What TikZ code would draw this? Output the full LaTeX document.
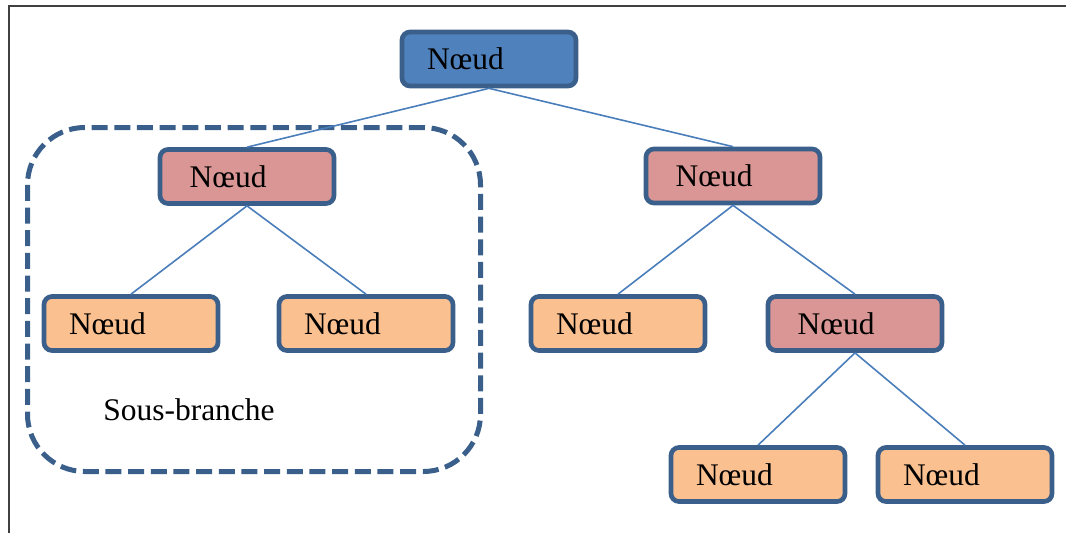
\documentclass[tikz,border=0pt]{standalone}
\usepackage{fontspec}
\setmainfont{Liberation Serif}
\definecolor{frameline}{HTML}{404040}
\definecolor{boxline}{HTML}{3A5F8B}
\definecolor{rootfill}{HTML}{4F81BD}
\definecolor{innerfill}{HTML}{D99694}
\definecolor{leaffill}{HTML}{FAC090}
\definecolor{edgeline}{HTML}{4A7EBB}
\tikzset{
  treebox/.style={draw=boxline, line width=3.5pt, rounded corners=6pt,
    minimum width=130.5pt, minimum height=40.5pt, inner xsep=18.75pt,
    text width=93pt, align=left, font=\fontsize{23.6}{28}\selectfont},
  rootbox/.style={treebox, fill=rootfill},
  innerbox/.style={treebox, fill=innerfill, execute at begin node={\hspace*{3.5pt}}},
  leafbox/.style={treebox, fill=leaffill},
  link/.style={draw=edgeline, line width=1.2pt},
  groupframe/.style={draw=boxline, line width=3.75pt, dash pattern=on 12pt off 5pt, rounded corners=43pt},
}
\begin{document}
\begin{tikzpicture}[x=0.75pt, y=-0.75pt]
  \useasboundingbox (0,0) rectangle (1066,533);
  % outer frame (top and left sides)
  \draw[frameline, line width=1.5pt] (9,533) -- (9,6) -- (1066,6);

  % dashed group around the left sub-branch
  \draw[groupframe] (27.5,127.5) rectangle (480.5,471.5);
  \node[anchor=base, font=\fontsize{23.6}{28}\selectfont] (label) at (189,420) {Sous-branche};

  % tree nodes
  \node[rootbox]  (root) at (489,59)    {Nœud};
  \node[innerbox] (l1a)  at (247,176.5) {Nœud};
  \node[innerbox] (l1b)  at (733,176)   {Nœud};
  \node[leafbox]  (a)    at (131,323.5) {Nœud};
  \node[leafbox]  (b)    at (366,323.5) {Nœud};
  \node[leafbox]  (c)    at (618,323.5) {Nœud};
  \node[innerbox] (d)    at (855,323.5) {Nœud};
  \node[leafbox]  (e)    at (758,474.5) {Nœud};
  \node[leafbox]  (f)    at (965,474.5) {Nœud};

  % connectors
  \draw[link] (root.south) -- (l1a.north);
  \draw[link] (root.south) -- (l1b.north);
  \draw[link] (l1a.south) -- (a.north);
  \draw[link] (l1a.south) -- (b.north);
  \draw[link] (l1b.south) -- (c.north);
  \draw[link] (l1b.south) -- (d.north);
  \draw[link] (d.south) -- (e.north);
  \draw[link] (d.south) -- (f.north);
\end{tikzpicture}
\end{document}
